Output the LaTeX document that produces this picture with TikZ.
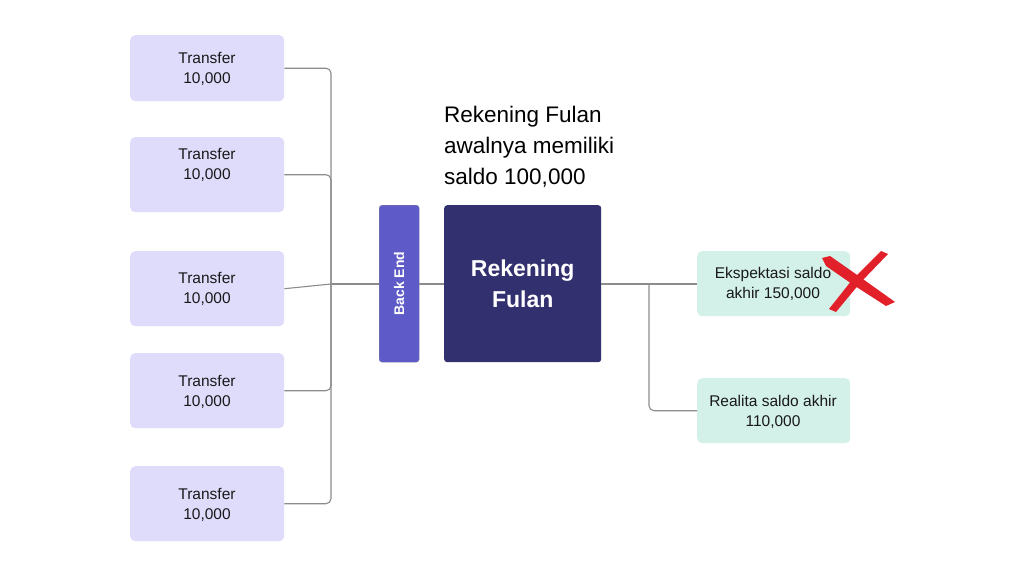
\documentclass[tikz,border=0pt]{standalone}
\usepackage{fontspec}
\setmainfont{Liberation Sans}
\definecolor{lav}{HTML}{DFDBFB}
\definecolor{bepurple}{HTML}{5E5AC7}
\definecolor{navy}{HTML}{33306F}
\definecolor{mint}{HTML}{D3F1E9}
\definecolor{conncol}{HTML}{8C8C8C}
\definecolor{xred}{HTML}{E2202A}
\begin{document}
\begin{tikzpicture}[x=1pt,y=-1pt,
  tbox/.style={fill=lav,rounded corners=5pt,minimum width=154pt,inner sep=0pt,anchor=north west},
  gbox/.style={fill=mint,rounded corners=5pt,minimum width=153pt,minimum height=65pt,inner sep=0pt,anchor=north west},
  ttext/.style={align=center,font=\fontsize{15.5}{20.5}\selectfont,text=black!90},
  conn/.style={draw=conncol,line width=1.1pt,rounded corners=5pt}]
\useasboundingbox (0,0) rectangle (1024,576);
\fill[white] (0,0) rectangle (1024,576);
% transfer boxes
\node[tbox,minimum height=66pt] (t1) at (130,35) {};
\node[tbox,minimum height=75pt] (t2) at (130,137) {};
\node[tbox,minimum height=75pt] (t3) at (130,251) {};
\node[tbox,minimum height=75pt] (t4) at (130,353) {};
\node[tbox,minimum height=75pt] (t5) at (130,466) {};
\node[ttext] (l1) at (207,69) {Transfer\\10,000};
\node[ttext] (l2) at (207,165) {Transfer\\10,000};
\node[ttext] (l3) at (207,289) {Transfer\\10,000};
\node[ttext] (l4) at (207,392) {Transfer\\10,000};
\node[ttext] (l5) at (207,505) {Transfer\\10,000};
% back end and account
\node[fill=bepurple,draw=navy!60,line width=0.4pt,rounded corners=3pt,minimum width=40pt,minimum height=157pt,inner sep=0pt,anchor=north west] (be) at (379,205) {};
\node[rotate=90,text=white,font=\bfseries\fontsize{14}{16}\selectfont] (bel) at (be.center) {Back End};
\node[fill=navy,rounded corners=3pt,minimum width=157pt,minimum height=157pt,inner sep=0pt,anchor=north west,
  text=white,align=center,font=\bfseries\fontsize{23}{31}\selectfont] (rf) at (444,205) {Rekening\\Fulan};
\node[anchor=north west,align=left,inner sep=0pt,font=\fontsize{22.5}{31}\selectfont] (title) at (444,106) {Rekening Fulan\\awalnya memiliki\\saldo 100,000};
% result boxes
\node[gbox] (g1) at (697,251) {};
\node[gbox] (g2) at (697,378) {};
\node[ttext] (gl1) at (773,284) {Ekspektasi saldo\\akhir 150,000};
\node[ttext] (gl2) at (773,412) {Realita saldo akhir\\110,000};
% connectors
\coordinate (m) at (331,284);
\coordinate (r) at (649,284);
\draw[conn] (t1.east) -| (m);
\draw[conn] (t2.east) -| (m);
\draw[conn] (t4.east) -| (m);
\draw[conn] (t5.east) -| (m);
\draw[conn] (t3.east) -- (m);
\draw[conn] (m) -- (be.west |- m);
\draw[conn] (be.east |- m) -- (rf.west |- m);
\draw[conn] (rf.east |- m) -- (g1.west |- m);
\draw[conn] (r) |- (g2.west);
% red cross
\fill[xred] (822,258) -- (830,256) -- (860,277) -- (895,302) -- (886,306) -- (855,286) -- (826,266) -- cycle;
\fill[xred] (881,251) -- (888,254) -- (860,283) -- (836,312) -- (829,309) -- (852,280) -- cycle;
\end{tikzpicture}
\end{document}
